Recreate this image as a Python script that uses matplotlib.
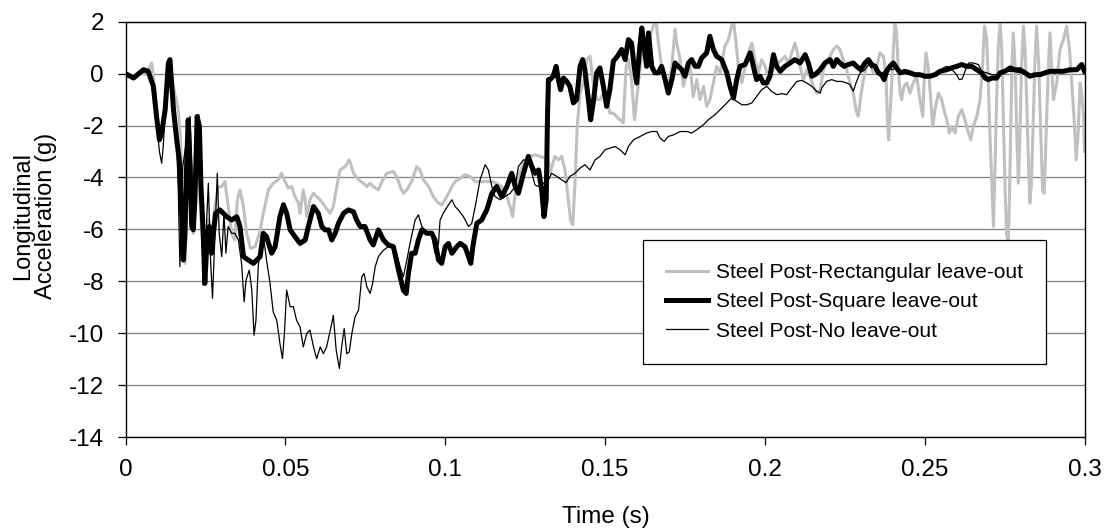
import matplotlib
matplotlib.use("Agg")
import matplotlib.pyplot as plt

plt.rcParams['font.family'] = ['Liberation Sans', 'DejaVu Sans']
plt.rcParams['axes.unicode_minus'] = False

# Steel post, rectangular leave-out (grey)
t_rect = [0.0000, 0.0025, 0.0045, 0.0061, 0.0077, 0.0082, 0.0087, 0.0097, 0.0106, 0.0118,
          0.0129, 0.0137, 0.0147, 0.0158, 0.0165, 0.0172, 0.0179, 0.0186, 0.0191, 0.0196,
          0.0204, 0.0212, 0.0220, 0.0229, 0.0238, 0.0248, 0.0259, 0.0269, 0.0280, 0.0290,
          0.0301, 0.0311, 0.0321, 0.0332, 0.0342, 0.0350, 0.0358, 0.0369, 0.0379, 0.0391,
          0.0405, 0.0419, 0.0431, 0.0447, 0.0462, 0.0478, 0.0488, 0.0499, 0.0509, 0.0520,
          0.0530, 0.0541, 0.0546, 0.0556, 0.0562, 0.0567, 0.0577, 0.0588, 0.0598, 0.0609,
          0.0624, 0.0640, 0.0650, 0.0661, 0.0671, 0.0687, 0.0700, 0.0713, 0.0729, 0.0744,
          0.0755, 0.0765, 0.0775, 0.0791, 0.0802, 0.0817, 0.0838, 0.0848, 0.0859, 0.0869,
          0.0880, 0.0895, 0.0911, 0.0921, 0.0932, 0.0948, 0.0963, 0.0979, 0.0989, 0.1005,
          0.1021, 0.1031, 0.1047, 0.1062, 0.1078, 0.1094, 0.1109, 0.1130, 0.1146, 0.1161,
          0.1177, 0.1193, 0.1203, 0.1211, 0.1219, 0.1229, 0.1245, 0.1266, 0.1281, 0.1297,
          0.1313, 0.1323, 0.1328, 0.1343, 0.1354, 0.1364, 0.1375, 0.1385, 0.1392, 0.1399,
          0.1406, 0.1413, 0.1422, 0.1432, 0.1443, 0.1453, 0.1463, 0.1474, 0.1484, 0.1495,
          0.1505, 0.1515, 0.1526, 0.1536, 0.1547, 0.1557, 0.1566, 0.1573, 0.1583, 0.1592,
          0.1599, 0.1610, 0.1620, 0.1630, 0.1641, 0.1651, 0.1660, 0.1667, 0.1677, 0.1688,
          0.1698, 0.1709, 0.1719, 0.1724, 0.1735, 0.1745, 0.1756, 0.1766, 0.1776, 0.1787,
          0.1797, 0.1808, 0.1818, 0.1828, 0.1839, 0.1849, 0.1860, 0.1875, 0.1886, 0.1896,
          0.1902, 0.1910, 0.1917, 0.1928, 0.1938, 0.1948, 0.1959, 0.1969, 0.1980, 0.1990,
          0.2001, 0.2011, 0.2021, 0.2032, 0.2042, 0.2053, 0.2063, 0.2074, 0.2084, 0.2094,
          0.2102, 0.2110, 0.2121, 0.2131, 0.2141, 0.2152, 0.2162, 0.2173, 0.2183, 0.2193,
          0.2204, 0.2214, 0.2225, 0.2235, 0.2245, 0.2256, 0.2266, 0.2277, 0.2285, 0.2292,
          0.2300, 0.2308, 0.2318, 0.2329, 0.2339, 0.2350, 0.2360, 0.2371, 0.2379, 0.2383,
          0.2387, 0.2391, 0.2397, 0.2402, 0.2407, 0.2412, 0.2417, 0.2423, 0.2428, 0.2435,
          0.2444, 0.2454, 0.2464, 0.2475, 0.2485, 0.2494, 0.2498, 0.2504, 0.2511, 0.2519,
          0.2525, 0.2532, 0.2543, 0.2553, 0.2560, 0.2569, 0.2577, 0.2584, 0.2595, 0.2605,
          0.2616, 0.2626, 0.2637, 0.2644, 0.2652, 0.2663, 0.2673, 0.2681, 0.2687, 0.2694,
          0.2699, 0.2704, 0.2710, 0.2715, 0.2720, 0.2725, 0.2730, 0.2736, 0.2741, 0.2746,
          0.2751, 0.2756, 0.2761, 0.2765, 0.2769, 0.2773, 0.2777, 0.2783, 0.2788, 0.2793,
          0.2798, 0.2803, 0.2809, 0.2814, 0.2819, 0.2825, 0.2829, 0.2834, 0.2840, 0.2845,
          0.2850, 0.2857, 0.2863, 0.2869, 0.2874, 0.2880, 0.2887, 0.2892, 0.2897, 0.2903,
          0.2913, 0.2923, 0.2934, 0.2944, 0.2953, 0.2960, 0.2967, 0.2974, 0.2980, 0.2986,
          0.2991, 0.2997, 0.3000]
g_rect = [0.00, -0.10, 0.09, -0.04, 0.28, 0.41, -0.10, -1.39, -2.55, -1.90,
          -0.49, 0.35, -0.36, -1.00, -1.39, -2.55, -4.86, -7.31, -5.38, -2.81,
          -5.12, -6.15, -2.93, -3.58, -6.15, -6.92, -5.64, -6.15, -5.12, -4.35,
          -4.35, -4.16, -5.12, -6.15, -6.41, -4.86, -4.48, -5.12, -6.15, -6.73,
          -6.67, -6.15, -5.38, -4.48, -4.22, -4.09, -3.84, -4.16, -4.41, -4.35,
          -4.74, -4.99, -5.38, -4.48, -4.86, -5.51, -4.86, -4.61, -4.74, -4.86,
          -5.12, -5.38, -5.12, -4.35, -3.71, -3.58, -3.32, -3.84, -4.09, -4.22,
          -4.35, -4.22, -4.35, -4.48, -4.16, -3.84, -3.77, -3.96, -4.35, -4.61,
          -4.48, -4.16, -3.58, -3.71, -4.09, -4.35, -4.74, -4.99, -5.06, -4.74,
          -4.35, -4.16, -4.03, -3.90, -3.96, -4.16, -4.16, -4.16, -4.16, -4.22,
          -4.35, -4.74, -5.12, -5.51, -4.61, -3.96, -3.45, -3.19, -3.13, -3.19,
          -3.26, -3.32, -3.84, -3.19, -3.32, -3.19, -3.71, -4.86, -5.64, -5.83,
          -4.22, -2.03, -0.75, -0.36, 0.54, 0.67, -0.36, -1.00, -1.00, -0.75,
          -0.88, -1.52, -1.52, -1.65, -1.78, -1.90, 0.28, 0.54, -0.23, -1.78,
          -1.00, 0.28, 1.31, 0.93, 1.44, 1.83, 1.96, 1.18, 0.28, -0.36,
          -0.49, 0.28, 1.70, 1.18, 0.54, -0.49, 0.03, 0.28, -0.88, -0.23,
          -1.00, -0.49, -1.26, -1.00, -0.36, 0.28, 0.03, 1.06, 1.31, 1.83,
          2.02, 1.18, 0.28, -0.36, 0.28, 0.80, 1.18, 0.54, 0.03, 0.54,
          0.28, -0.23, 0.03, 0.28, 0.41, 0.54, 0.67, 0.41, 0.80, 1.18,
          0.80, 0.28, -0.23, 0.15, -0.10, -0.49, -0.75, -0.62, 0.15, 0.41,
          0.67, 0.93, 1.06, 0.93, 0.54, 0.15, -0.36, -0.75, -1.39, -1.65,
          -0.88, -0.23, 0.28, 0.41, 0.03, 0.28, 0.80, 0.67, -0.10, -1.65,
          -2.55, -1.65, -0.36, 0.93, 1.96, 1.57, 0.28, -0.75, -1.00, -0.49,
          -0.36, -0.75, -0.36, -0.10, -1.00, -1.65, -0.36, 0.80, 0.28, -1.00,
          -2.03, -1.39, -0.75, -1.00, -1.39, -1.78, -2.29, -2.03, -2.29, -1.65,
          -1.39, -1.78, -2.29, -2.55, -2.03, -1.65, -1.00, 0.28, 1.83, 1.31,
          -0.36, -2.29, -4.22, -5.89, -3.58, -1.00, 0.93, 1.96, 0.93, -1.65,
          -4.22, -6.15, -6.54, -4.86, -2.29, 0.28, 1.57, 0.28, -2.29, -4.22,
          -2.29, 0.28, 1.83, 0.93, -1.00, -3.58, -4.99, -4.22, -1.65, 0.54,
          1.83, 0.28, -2.29, -4.48, -4.61, -2.29, 0.28, 1.57, 0.28, -1.00,
          -0.36, 0.93, 1.31, 1.83, 0.93, -0.36, -1.65, -3.32, -2.29, -0.36,
          -0.75, -1.65, -3.00]

# Steel post, square leave-out (thick black)
t_square = [0.0000, 0.0025, 0.0056, 0.0071, 0.0087, 0.0097, 0.0106, 0.0113, 0.0124, 0.0134,
            0.0139, 0.0150, 0.0160, 0.0168, 0.0176, 0.0181, 0.0186, 0.0191, 0.0196, 0.0202,
            0.0207, 0.0212, 0.0217, 0.0224, 0.0231, 0.0236, 0.0243, 0.0248, 0.0256, 0.0262,
            0.0269, 0.0275, 0.0282, 0.0295, 0.0306, 0.0316, 0.0332, 0.0348, 0.0358, 0.0369,
            0.0384, 0.0400, 0.0421, 0.0431, 0.0441, 0.0457, 0.0468, 0.0483, 0.0494, 0.0504,
            0.0515, 0.0530, 0.0546, 0.0562, 0.0572, 0.0588, 0.0603, 0.0614, 0.0624, 0.0635,
            0.0645, 0.0656, 0.0666, 0.0682, 0.0697, 0.0713, 0.0723, 0.0734, 0.0749, 0.0765,
            0.0775, 0.0791, 0.0807, 0.0822, 0.0838, 0.0854, 0.0869, 0.0878, 0.0885, 0.0895,
            0.0906, 0.0916, 0.0927, 0.0942, 0.0958, 0.0968, 0.0979, 0.0989, 0.1000, 0.1010,
            0.1021, 0.1036, 0.1047, 0.1062, 0.1073, 0.1080, 0.1088, 0.1099, 0.1114, 0.1130,
            0.1146, 0.1161, 0.1177, 0.1193, 0.1208, 0.1219, 0.1229, 0.1245, 0.1260, 0.1271,
            0.1281, 0.1292, 0.1302, 0.1309, 0.1316, 0.1320, 0.1323, 0.1328, 0.1338, 0.1347,
            0.1354, 0.1361, 0.1370, 0.1380, 0.1390, 0.1401, 0.1411, 0.1422, 0.1430, 0.1437,
            0.1448, 0.1455, 0.1463, 0.1474, 0.1484, 0.1495, 0.1505, 0.1515, 0.1526, 0.1539,
            0.1552, 0.1563, 0.1573, 0.1583, 0.1591, 0.1599, 0.1608, 0.1615, 0.1622, 0.1630,
            0.1636, 0.1646, 0.1656, 0.1667, 0.1677, 0.1688, 0.1698, 0.1709, 0.1719, 0.1729,
            0.1740, 0.1750, 0.1761, 0.1771, 0.1782, 0.1792, 0.1802, 0.1818, 0.1828, 0.1839,
            0.1849, 0.1865, 0.1881, 0.1891, 0.1902, 0.1912, 0.1922, 0.1938, 0.1954, 0.1964,
            0.1974, 0.1985, 0.1995, 0.2006, 0.2016, 0.2027, 0.2037, 0.2048, 0.2063, 0.2079,
            0.2094, 0.2110, 0.2126, 0.2136, 0.2147, 0.2157, 0.2173, 0.2188, 0.2204, 0.2214,
            0.2225, 0.2235, 0.2248, 0.2261, 0.2277, 0.2287, 0.2300, 0.2313, 0.2324, 0.2334,
            0.2345, 0.2355, 0.2365, 0.2373, 0.2381, 0.2391, 0.2402, 0.2412, 0.2423, 0.2438,
            0.2454, 0.2470, 0.2485, 0.2501, 0.2517, 0.2532, 0.2548, 0.2569, 0.2584, 0.2600,
            0.2616, 0.2631, 0.2647, 0.2663, 0.2678, 0.2689, 0.2699, 0.2710, 0.2725, 0.2736,
            0.2751, 0.2767, 0.2783, 0.2798, 0.2814, 0.2829, 0.2845, 0.2861, 0.2876, 0.2892,
            0.2913, 0.2934, 0.2955, 0.2976, 0.2991, 0.3000]
g_square = [0.00, -0.17, 0.15, 0.09, -0.49, -1.65, -2.55, -2.29, -1.39, 0.41,
            0.54, -1.39, -2.55, -3.32, -5.51, -7.18, -6.15, -3.58, -1.78, -3.58,
            -5.89, -6.02, -4.86, -1.65, -2.03, -4.35, -6.15, -8.08, -6.15, -5.89,
            -6.92, -6.15, -5.38, -5.25, -5.38, -5.51, -5.64, -5.51, -5.89, -7.05,
            -7.18, -7.31, -7.05, -6.15, -6.28, -6.92, -6.67, -5.51, -5.05, -5.38,
            -6.02, -6.28, -6.54, -6.41, -5.89, -5.12, -5.38, -5.89, -6.02, -6.02,
            -6.41, -6.15, -5.77, -5.38, -5.25, -5.32, -5.64, -5.89, -5.89, -6.41,
            -6.60, -6.02, -6.41, -6.60, -6.67, -7.57, -8.34, -8.47, -7.70, -6.92,
            -6.92, -6.41, -6.02, -6.15, -6.15, -6.41, -7.18, -7.31, -6.67, -6.54,
            -6.92, -6.67, -6.54, -6.67, -7.05, -7.31, -6.54, -5.77, -5.64, -5.25,
            -4.61, -4.35, -4.74, -4.35, -3.84, -4.35, -4.61, -3.84, -3.19, -3.58,
            -3.84, -3.71, -4.48, -5.51, -4.86, -1.65, -0.23, -0.23, -0.10, 0.28,
            -0.23, -0.62, -0.17, -0.30, -0.49, -1.13, -1.00, 0.28, 0.54, 0.15,
            -1.00, -1.78, -1.13, 0.03, 0.22, -0.49, -1.26, -0.62, 0.48, 0.67,
            0.93, 0.54, 1.31, 1.18, 0.28, -0.36, 0.93, 1.76, 1.06, 0.28,
            1.57, 0.28, 0.03, 0.03, 0.28, -0.23, -0.75, -0.23, 0.41, 0.28,
            0.15, -0.10, 0.41, 0.54, 0.28, 0.28, 0.60, 0.80, 1.44, 0.93,
            0.67, 0.54, 0.03, -0.49, -0.94, -0.23, 0.28, 0.35, 0.80, 0.28,
            -0.23, -0.10, -0.36, -0.36, -0.10, 0.73, 0.28, 0.09, 0.28, 0.41,
            0.54, 0.41, 0.73, 0.41, -0.10, -0.04, 0.15, 0.41, 0.54, 0.28,
            0.54, 0.41, 0.28, 0.35, 0.41, 0.28, 0.15, 0.41, 0.54, 0.35,
            0.28, 0.03, -0.04, -0.23, 0.09, 0.28, 0.41, 0.22, 0.03, 0.09,
            0.03, -0.04, -0.04, -0.10, -0.10, -0.04, 0.09, 0.15, 0.22, 0.28,
            0.35, 0.28, 0.28, 0.15, 0.03, -0.17, -0.23, -0.17, -0.17, 0.03,
            0.09, 0.22, 0.15, 0.15, 0.03, -0.10, -0.04, -0.04, 0.03, 0.09,
            0.09, 0.09, 0.15, 0.15, 0.35, 0.09]

# Steel post, no leave-out (thin black)
t_none = [0.0000, 0.0025, 0.0056, 0.0071, 0.0087, 0.0097, 0.0106, 0.0113, 0.0118, 0.0124,
          0.0134, 0.0139, 0.0150, 0.0160, 0.0165, 0.0170, 0.0179, 0.0191, 0.0202, 0.0212,
          0.0229, 0.0238, 0.0243, 0.0252, 0.0259, 0.0266, 0.0272, 0.0280, 0.0287, 0.0293,
          0.0301, 0.0308, 0.0314, 0.0321, 0.0332, 0.0342, 0.0353, 0.0363, 0.0371, 0.0377,
          0.0387, 0.0395, 0.0402, 0.0408, 0.0415, 0.0426, 0.0433, 0.0441, 0.0452, 0.0462,
          0.0473, 0.0483, 0.0491, 0.0497, 0.0504, 0.0515, 0.0525, 0.0535, 0.0546, 0.0556,
          0.0567, 0.0577, 0.0588, 0.0598, 0.0609, 0.0619, 0.0629, 0.0645, 0.0650, 0.0659,
          0.0669, 0.0676, 0.0684, 0.0692, 0.0700, 0.0708, 0.0718, 0.0729, 0.0739, 0.0746,
          0.0755, 0.0765, 0.0773, 0.0781, 0.0791, 0.0807, 0.0822, 0.0838, 0.0848, 0.0859,
          0.0869, 0.0880, 0.0890, 0.0906, 0.0916, 0.0927, 0.0937, 0.0948, 0.0958, 0.0968,
          0.0979, 0.0984, 0.0994, 0.1010, 0.1021, 0.1031, 0.1041, 0.1057, 0.1073, 0.1083,
          0.1094, 0.1109, 0.1125, 0.1135, 0.1146, 0.1156, 0.1172, 0.1187, 0.1203, 0.1219,
          0.1229, 0.1245, 0.1260, 0.1271, 0.1281, 0.1292, 0.1302, 0.1313, 0.1323, 0.1333,
          0.1349, 0.1364, 0.1378, 0.1390, 0.1406, 0.1422, 0.1437, 0.1453, 0.1469, 0.1484,
          0.1500, 0.1515, 0.1531, 0.1547, 0.1563, 0.1573, 0.1589, 0.1610, 0.1630, 0.1646,
          0.1662, 0.1672, 0.1685, 0.1698, 0.1714, 0.1735, 0.1756, 0.1771, 0.1787, 0.1808,
          0.1823, 0.1844, 0.1865, 0.1881, 0.1896, 0.1912, 0.1928, 0.1943, 0.1959, 0.1974,
          0.1990, 0.2006, 0.2021, 0.2037, 0.2053, 0.2068, 0.2084, 0.2100, 0.2115, 0.2131,
          0.2147, 0.2162, 0.2173, 0.2178, 0.2193, 0.2209, 0.2225, 0.2240, 0.2256, 0.2266,
          0.2277, 0.2285, 0.2298, 0.2313, 0.2324, 0.2334, 0.2350, 0.2365, 0.2381, 0.2397,
          0.2412, 0.2433, 0.2454, 0.2475, 0.2496, 0.2517, 0.2537, 0.2548, 0.2558, 0.2569,
          0.2579, 0.2590, 0.2600, 0.2608, 0.2617, 0.2626, 0.2637, 0.2652, 0.2668, 0.2678,
          0.2694, 0.2710, 0.2725, 0.2741, 0.2756, 0.2777, 0.2798, 0.2819, 0.2840, 0.2861,
          0.2882, 0.2903, 0.2923, 0.2944, 0.2965, 0.2986, 0.3000]
g_none = [0.00, -0.10, 0.09, 0.03, -0.62, -1.90, -3.00, -3.45, -2.80, -1.52,
          0.28, 0.41, -1.26, -2.68, -4.50, -7.44, -3.58, -2.55, -1.65, -5.64,
          -1.58, -4.86, -8.15, -6.15, -4.22, -7.18, -8.66, -6.15, -3.84, -6.15,
          -7.05, -5.38, -6.92, -5.89, -6.15, -6.15, -6.41, -7.31, -8.79, -7.95,
          -7.57, -8.34, -10.08, -9.50, -7.44, -6.15, -6.41, -7.18, -8.08, -9.18,
          -9.50, -10.40, -10.98, -10.01, -8.34, -8.98, -8.98, -9.50, -9.76, -10.53,
          -10.01, -9.88, -10.53, -10.98, -10.53, -10.79, -10.53, -9.63, -9.31, -10.66,
          -11.36, -10.53, -9.82, -10.79, -10.72, -10.01, -9.37, -9.11, -7.83, -7.70,
          -8.21, -8.47, -8.08, -7.44, -7.05, -6.80, -6.67, -6.60, -6.92, -7.44,
          -7.83, -7.18, -6.54, -5.64, -5.44, -5.89, -6.02, -6.15, -6.28, -6.92,
          -6.54, -5.64, -5.38, -5.06, -4.86, -5.12, -5.25, -5.51, -5.89, -5.77,
          -5.12, -4.09, -3.51, -3.71, -4.35, -4.74, -4.86, -4.74, -4.61, -4.35,
          -3.58, -3.32, -3.32, -3.84, -4.29, -4.35, -4.29, -4.16, -4.09, -3.84,
          -3.96, -4.09, -4.20, -3.96, -3.84, -3.64, -3.51, -3.71, -3.32, -3.19,
          -2.93, -2.87, -2.81, -2.93, -3.13, -2.81, -2.55, -2.42, -2.29, -2.23,
          -2.23, -2.48, -2.61, -2.42, -2.36, -2.23, -2.23, -2.29, -2.16, -1.97,
          -1.78, -1.58, -1.33, -1.13, -0.94, -1.07, -1.20, -1.20, -1.13, -0.88,
          -0.62, -0.49, -0.68, -0.81, -0.77, -0.81, -0.55, -0.30, -0.26, -0.36,
          -0.49, -0.68, -0.75, -0.55, -0.30, -0.23, -0.30, -0.30, -0.36, -0.42,
          -0.68, -0.36, 0.03, 0.15, 0.35, 0.22, 0.28, -0.04, 0.22, 0.15,
          0.22, 0.03, -0.04, 0.00, -0.04, -0.13, -0.10, 0.03, 0.22, 0.28,
          0.22, 0.09, -0.04, -0.23, -0.21, 0.09, 0.41, 0.41, 0.35, 0.09,
          0.03, -0.04, -0.04, 0.03, 0.09, 0.09, 0.03, 0.03, -0.04, 0.03,
          0.09, 0.15, 0.09, 0.09, 0.15, 0.28, 0.22]

labels = ['Steel Post-Rectangular leave-out', 'Steel Post-Square leave-out',
          'Steel Post-No leave-out']
y_ticks = list(range(-14, 3, 2))
x_ticks = [0, 0.05, 0.1, 0.15, 0.2, 0.25, 0.3]
x_tick_labels = ['0', '0.05', '0.1', '0.15', '0.2', '0.25', '0.3']

fig = plt.figure(figsize=(11.07, 5.31), dpi=100)
ax = fig.add_axes([0.1134, 0.1770, 0.8663, 0.7821])

ax.plot(t_rect, g_rect, color='#c0c0c0', lw=2.2, label=labels[0])
ax.plot(t_square, g_square, color='black', lw=3.6, label=labels[1])
ax.plot(t_none, g_none, color='black', lw=0.9, label=labels[2])

ax.set_xlim(0, 0.3)
ax.set_ylim(-14, 2)
ax.set_xticks(x_ticks)
ax.set_xticklabels(x_tick_labels)
ax.set_yticks(y_ticks)
ax.yaxis.grid(True, color='#808080', lw=0.9)
ax.set_axisbelow(True)
ax.tick_params(axis='both', direction='out', length=5.5, width=0.9, labelsize=17.5)
ax.tick_params(axis='x', pad=10)
ax.tick_params(axis='y', pad=10)
for s in ax.spines.values():
    s.set_color('black')
    s.set_linewidth(1.0)

fig.text(605.8 / 1107, 1 - 516.7 / 531, 'Time (s)', ha='center', va='center', fontsize=17.5)
fig.text(35 / 1107, 1 - 216 / 531, 'Longitudinal\nAcceleration (g)', rotation=90,
         ha='center', va='center', multialignment='center', fontsize=17, linespacing=1.05)

leg = ax.legend(loc='upper left', bbox_to_anchor=(0.5396, 0.4744), borderaxespad=0,
                fontsize=15, frameon=True, fancybox=False, framealpha=1,
                edgecolor='black', borderpad=1.1, handlelength=2.0,
                handletextpad=0.4, labelspacing=0.5)
leg.get_frame().set_linewidth(0.9)

fig.savefig('out.png', dpi=100)
